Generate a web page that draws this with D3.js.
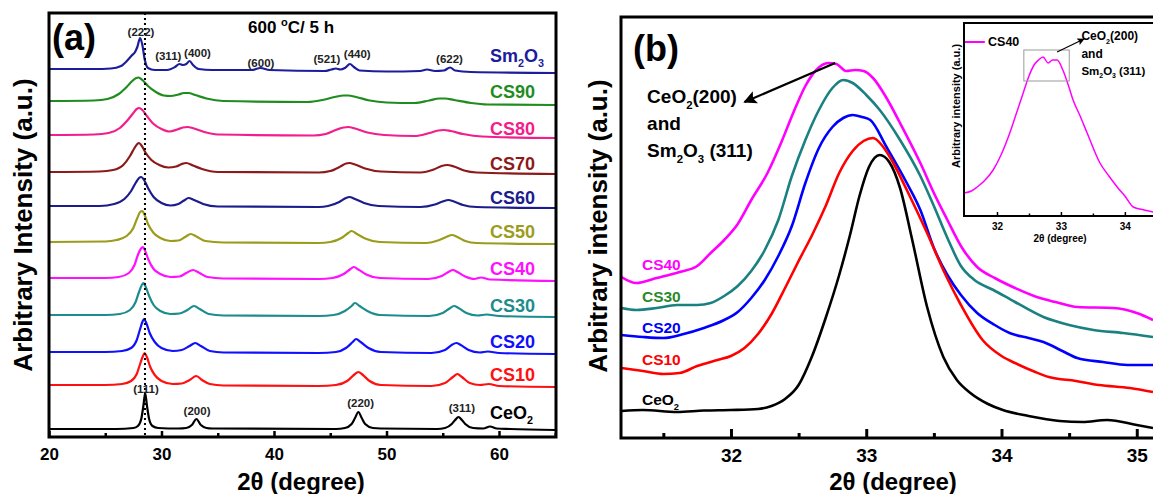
<!DOCTYPE html>
<html><head><meta charset="utf-8">
<script src="https://cdn.jsdelivr.net/npm/d3@7"></script>
<style>
body{margin:0;background:#fff}
text{font-family:"Liberation Sans",Arial,Helvetica,sans-serif;font-weight:bold}
</style></head>
<body><svg id="c" width="1153" height="494"></svg>
<script>
// ---------------- Panel (a) data: [2theta, intensity (a.u., stacked)] ----------------
const namesA = ["Sm2O3","CS90","CS80","CS70","CS60","CS50","CS40","CS30","CS20","CS10","CeO2"];
const xTicksA = [20,30,40,50,60];
const xMinorA = [25,35,45,55,65];
const aSm2O3 = [[20,368],[24,368],[25.5,368.5],[26.4,371],[27.0,377],[27.4,382],[27.65,385],[27.85,390],[28.1,399],[28.3,392],[28.5,378],[28.8,369],[29.4,367],[30.5,367],[31.2,370],[31.6,373],[31.9,372],[32.2,373],[32.5,376],[32.8,372],[33.3,368],[34.5,367],[38.0,367],[38.8,369],[39.6,367],[44.5,366],[45.1,367.5],[45.5,368.5],[45.9,367.5],[46.3,369],[46.75,373],[47.1,370],[47.6,366.5],[50,365.5],[53.0,366],[53.6,367.5],[54.3,366],[55.1,366.5],[55.65,369.5],[56.1,366.5],[57.5,365],[65,364]];
const aCS90 = [[20,336],[24,336.5],[25.2,338],[26.2,343],[26.9,350],[27.4,356],[27.75,359],[27.95,359.5],[28.3,357],[28.8,351],[29.5,345],[30.2,341.5],[30.8,341],[31.5,342.5],[32.0,344],[32.4,344],[33.0,342],[34.0,338.5],[35.5,336],[43,335],[44.3,337],[45.4,340],[46.2,341.5],[46.6,341.5],[47.3,340],[48.5,336.5],[50,334.5],[52.5,334],[53.8,336.5],[54.7,338.5],[55.2,338.5],[56,337],[57.5,334],[59,332.5],[65,332]];
const aCS80 = [[20,302],[24,302.5],[25.3,304],[26.3,309],[27.0,317],[27.5,324],[27.8,328],[28.0,329],[28.3,327],[28.7,321],[29.3,313],[30.0,308],[30.7,305.5],[31.4,307.5],[31.9,309.5],[32.3,310],[32.9,308.5],[33.8,305],[35,302.5],[43.5,301.5],[44.6,303],[45.6,307.5],[46.2,309.5],[46.6,310],[47.2,308.5],[48.3,304.5],[49.8,302],[52.5,301],[53.8,304],[54.6,306.5],[55.1,307],[55.7,306],[56.8,303],[58.5,300.5],[65,299]];
const aCS70 = [[20,265],[24.5,265.5],[25.7,267],[26.6,272],[27.2,281],[27.6,289],[27.85,293],[28.0,294],[28.25,291],[28.6,284],[29.1,277],[29.8,272],[30.6,269.5],[31.3,270.5],[31.8,273],[32.2,274],[32.8,271.5],[33.6,268],[35,265],[44,264.5],[45,266],[45.9,270.5],[46.4,273.5],[46.7,274],[47.2,272.5],[48.1,268.5],[49.5,265.5],[53,264.5],[54.2,267.5],[54.9,271],[55.4,272],[56.0,270.5],[56.9,266.5],[58,264.5],[65,263]];
const aCS60 = [[20,231],[24.5,231],[25.8,233],[26.7,238],[27.3,246],[27.7,254],[28.0,259],[28.2,260],[28.45,257],[28.8,249],[29.3,240],[30.0,234],[30.8,231.5],[31.5,233],[32.0,236.5],[32.4,239],[32.9,237],[33.7,233],[35,230.5],[44,230],[44.8,231],[45.8,235],[46.4,239],[46.7,240],[47.2,238],[48.0,234],[49.3,231],[53,230],[54.3,232.5],[55.0,235.5],[55.5,237],[56.0,235.5],[56.8,232],[58,230],[65,229]];
const aCS50 = [[20,195],[25,195.5],[26.0,197],[26.9,201],[27.5,209],[27.85,219],[28.1,225],[28.3,226],[28.5,222],[28.8,213],[29.3,204],[29.9,199],[30.8,196],[31.5,196.5],[32.1,200],[32.6,203],[33.1,200.5],[33.9,196],[35.5,194.5],[44,194],[45,195],[46.0,199],[46.6,204],[46.9,206],[47.3,203.5],[48.1,198.5],[49.4,195],[53.5,194],[54.7,197],[55.4,200.5],[55.8,202],[56.3,200],[57.0,196],[58,194],[65,193]];
const aCS40 = [[20,159],[25,159],[26.2,160],[27.1,164],[27.6,172],[27.9,182],[28.15,188],[28.35,190],[28.55,186],[28.85,177],[29.3,168],[29.9,163],[30.8,160],[31.6,160.5],[32.2,164],[32.8,167],[33.3,164.5],[34.1,160],[35.5,158.5],[44,158],[45.2,159],[46.2,163],[46.8,168],[47.1,170],[47.5,167.5],[48.2,162.5],[49.4,159],[53.7,158],[54.9,161],[55.5,165],[55.9,167],[56.3,165],[57.0,160.5],[57.8,158],[58.4,159.5],[59.2,157.5],[65,156]];
const aCS30 = [[20,122],[25,122],[26.3,123],[27.2,127],[27.7,135],[28.0,145],[28.25,152],[28.4,154],[28.6,150],[28.9,141],[29.3,132],[29.9,126],[30.8,123],[31.6,123.5],[32.3,127],[32.9,131],[33.4,128],[34.2,123],[35.5,121.5],[44,121],[45.3,122],[46.3,126],[46.9,131],[47.2,134],[47.6,131],[48.3,126],[49.4,122],[53.8,121],[55.0,124],[55.6,128.5],[56.0,131],[56.4,129],[57.1,124],[58.1,121.5],[58.9,122.5],[60,121],[65,120]];
const aCS20 = [[20,85],[25,85],[26.5,86],[27.3,89],[27.8,97],[28.1,108],[28.3,115],[28.45,118],[28.65,114],[28.95,104],[29.4,95],[30.0,89],[31.0,86],[31.8,87],[32.5,91],[33.0,94],[33.5,91],[34.3,86],[35.5,84.5],[44,84],[45.5,85],[46.4,89],[47.0,95],[47.3,98],[47.7,95],[48.4,89],[49.5,85],[54,84],[55.2,87],[55.8,92],[56.2,94],[56.6,92],[57.3,87],[58.3,84.5],[59.0,85.5],[60,84],[65,83]];
const aCS10 = [[20,52],[25,52],[26.5,53],[27.3,56],[27.8,63],[28.1,73],[28.35,81],[28.5,84],[28.7,80],[29.0,70],[29.4,62],[30.0,56],[31.0,53],[31.8,53.5],[32.5,57],[33.1,61],[33.6,57],[34.3,53],[35.5,51.5],[44,51],[45.5,52],[46.5,56],[47.1,62],[47.5,65],[47.9,62],[48.5,56],[49.5,52],[54,51],[55.2,54],[55.9,60],[56.3,63],[56.7,60],[57.4,54],[58.3,52],[59.1,53],[60,51],[65,50]];
const aCeO2 = [[20,8],[26,8],[27.5,9],[27.9,11],[28.2,18],[28.4,32],[28.55,44],[28.7,32],[28.9,18],[29.2,11],[29.7,9],[31.5,8.5],[32.2,9],[32.7,12],[33.1,18],[33.5,12],[34.0,9],[34.5,8.5],[45.5,8],[46.3,9],[46.9,13],[47.2,19],[47.5,25],[47.8,19],[48.1,13],[48.8,9],[49.5,8.5],[54.5,8],[55.2,9],[55.8,13],[56.1,17],[56.4,20],[56.7,17],[57.0,13],[57.7,9],[58.6,8.5],[59.2,10.5],[59.8,8.5],[61,8],[65,7]];
const seriesA = [aSm2O3,aCS90,aCS80,aCS70,aCS60,aCS50,aCS40,aCS30,aCS20,aCS10,aCeO2];
const labelYA = [375,339,302,267,233,199,162,125,89,56,18];
const peakLabelsA = [["(222)",28.18,401],["(311)",30.6,377],["(400)",33.2,380],["(600)",38.84,370],["(521)",44.7,374],["(440)",47.4,379],["(622)",55.6,374],["(111)",28.62,44],["(200)",33.16,22],["(220)",47.7,30],["(311)",56.7,25]];
const dottedXA = 28.53;

// ---------------- Panel (b) data ----------------
const namesB = ["CS40","CS30","CS20","CS10","CeO2"];
const xTicksB = [32,33,34,35];
const xMinorB = [31.5,32.5,33.5,34.5];
const bCS40 = [[31.19,161],[31.3,155],[31.45,160],[31.62,166],[31.75,172],[31.85,185],[31.95,198],[32.05,214],[32.15,238],[32.27,265],[32.37,295],[32.46,325],[32.55,352],[32.63,368],[32.72,375],[32.78,374],[32.85,367],[32.92,368],[32.98,367],[33.05,360],[33.15,340],[33.25,315],[33.4,275],[33.5,245],[33.6,218],[33.7,192],[33.82,171],[33.95,160],[34.1,150],[34.26,141],[34.4,136],[34.56,131],[34.83,130],[35.0,125],[35.12,118]];
const bCS30 = [[31.19,130],[31.3,128],[31.45,130],[31.6,133],[31.75,133],[31.85,135],[31.95,142],[32.05,152],[32.15,167],[32.25,188],[32.35,218],[32.45,262],[32.55,298],[32.65,328],[32.75,350],[32.83,358],[32.9,355],[33.0,343],[33.1,328],[33.25,298],[33.4,262],[33.5,232],[33.6,200],[33.7,172],[33.8,158],[33.94,148],[34.1,136],[34.31,121],[34.5,113],[34.68,108],[34.9,105],[35.12,101]];
const bCS20 = [[31.19,103],[31.35,101],[31.5,100],[31.65,104],[31.8,110],[31.95,118],[32.05,126],[32.15,140],[32.25,158],[32.35,182],[32.45,212],[32.55,255],[32.65,290],[32.75,311],[32.83,320],[32.9,323],[32.97,321],[33.03,318],[33.15,291],[33.3,255],[33.4,228],[33.5,190],[33.6,163],[33.7,143],[33.82,125],[33.95,113],[34.06,105],[34.2,100],[34.31,96],[34.45,87],[34.56,80],[34.75,76],[34.93,73],[35.12,73]];
const bCS10 = [[31.19,70],[31.35,67],[31.5,64],[31.62,65],[31.75,72],[31.9,78],[32.0,82],[32.1,90],[32.2,104],[32.3,124],[32.4,150],[32.5,177],[32.6,203],[32.7,232],[32.8,265],[32.9,287],[32.98,297],[33.05,300],[33.12,292],[33.2,275],[33.3,248],[33.45,205],[33.58,165],[33.7,133],[33.86,98],[34.0,82],[34.1,75],[34.25,66],[34.35,61],[34.55,57],[34.72,53],[34.95,50],[35.12,46]];
const bCeO2 = [[31.19,27],[31.35,28],[31.6,26],[31.8,27.5],[32.0,28],[32.2,29],[32.3,32],[32.4,39],[32.5,53],[32.6,82],[32.7,120],[32.8,163],[32.88,203],[32.95,242],[33.02,271],[33.1,283],[33.17,276],[33.25,250],[33.34,198],[33.45,131],[33.57,81],[33.67,58],[33.77,45],[33.9,34],[34.01,28],[34.2,22],[34.43,17],[34.6,16],[34.78,18],[35.0,13],[35.12,10]];
const seriesB = [bCS40,bCS30,bCS20,bCS10,bCeO2];
const labelYB = [168,136,105,73,33];
const labelXB = 31.342;

// ---------------- Inset data ----------------
const xTicksI = [32,33,34];
const xMinorI = [32.5,33.5];
const iCS40 = [[31.48,23],[31.6,25],[31.69,29],[31.8,35],[31.94,46],[32.07,62],[32.2,83],[32.3,102],[32.41,123],[32.5,140],[32.58,151],[32.65,156],[32.72,159],[32.8,153],[32.87,156],[32.94,156],[33.03,146],[33.12,130],[33.19,116],[33.3,100],[33.41,83],[33.61,53],[33.75,40],[33.88,29],[34.0,20],[34.13,9],[34.3,6],[34.44,4]];

// ---------------- styles ----------------
const colorsA = ["#1c1c9c","#1f8c1f","#f21e8c","#8c1a1a","#1c1c8c","#9c9c1c","#ff10ff","#1c8c8c","#1010ff","#ff1010","#000000"];
const colorsB = ["#ff00ff","#1a8080","#0000ff","#ff0000","#000000"];
const labelColorsB = ["#ff00ff","#2a8a2a","#0000ff","#ff0000","#000000"];

const svg = d3.select("#c");
const defs = svg.append("defs");
defs.append("marker").attr("id","arr").attr("viewBox","0 0 10 10").attr("refX",9).attr("refY",5)
  .attr("markerWidth",6).attr("markerHeight",6).attr("orient","auto-start-reverse").attr("markerUnits","strokeWidth")
  .append("path").attr("d","M0,0L10,5L0,10L2,5Z").attr("fill","#000");

function rich(g, x, y, parts, size, color, anchor){
  const t = g.append("text").attr("x",x).attr("y",y).attr("font-size",size).attr("fill",color||"#000")
    .attr("text-anchor",anchor||"start");
  let sub=false;
  parts.forEach(p=>{
    const isSub = p.startsWith("_");
    const s = isSub ? p.slice(1) : p;
    const ts = t.append("tspan").text(s);
    if(isSub){ ts.attr("font-size",size*0.6).attr("dy", size*0.3); sub=true; }
    else if(sub){ ts.attr("dy", -size*0.3); sub=false; }
  });
  return t;
}
function nameParts(n){
  if(n==="Sm2O3") return ["Sm","_2","O","_3"];
  if(n==="CeO2") return ["CeO","_2"];
  return [n];
}

// ================= Panel (a) =================
const xA = d3.scaleLinear().domain([20,65]).range([49,555.25]);
const yA = d3.scaleLinear().domain([0,424]).range([437,13]);
const gA = svg.append("g");
defs.append("clipPath").attr("id","clipA").append("rect").attr("x",49).attr("y",13).attr("width",507).attr("height",424);
const lineA = d3.line().x(d=>xA(d[0])).y(d=>yA(d[1])).curve(d3.curveMonotoneX);
const cA = gA.append("g").attr("clip-path","url(#clipA)");
seriesA.forEach((s,i)=>{
  cA.append("path").attr("d",lineA(s)).attr("fill","none").attr("stroke",colorsA[i]).attr("stroke-width",2.2).attr("stroke-linejoin","round");
});
cA.append("line").attr("x1",xA(dottedXA)).attr("x2",xA(dottedXA)).attr("y1",yA(424)).attr("y2",yA(0))
  .attr("stroke","#000").attr("stroke-width",2).attr("stroke-dasharray","2,3");
const axA = gA.append("g").attr("transform","translate(0,437)")
  .call(d3.axisBottom(xA).tickValues(xTicksA).tickSize(-6).tickSizeOuter(0).tickPadding(11).tickFormat(d3.format("d")));
axA.select(".domain").remove();
axA.selectAll(".tick line").attr("stroke","#000").attr("stroke-width",2.5);
axA.selectAll(".tick text").attr("font-size",17).attr("fill","#000").attr("font-family",null);
const axAm = gA.append("g").attr("transform","translate(0,437)")
  .call(d3.axisBottom(xA).tickValues(xMinorA).tickSize(-4).tickSizeOuter(0).tickFormat(""));
axAm.select(".domain").remove();
axAm.selectAll(".tick line").attr("stroke","#000").attr("stroke-width",2.5);
gA.append("rect").attr("x",49).attr("y",13).attr("width",507).attr("height",424).attr("fill","none").attr("stroke","#000").attr("stroke-width",3);
seriesA.forEach((s,i)=>{
  rich(gA, xA(59.2), yA(labelYA[i]), nameParts(namesA[i]), 18, i===10?"#000":colorsA[i], "start");
});
peakLabelsA.forEach(p=>{
  gA.append("text").attr("x",xA(p[1])).attr("y",yA(p[2])).attr("text-anchor","middle").attr("font-size",11.5).attr("fill","#222").text(p[0]);
});
gA.append("text").attr("x",52).attr("y",50).attr("font-size",36).text("(a)");
{
  const t = gA.append("text").attr("x",248).attr("y",33).attr("font-size",17);
  t.append("tspan").text("600 ");
  t.append("tspan").attr("font-size",11).attr("dy",-7).text("o");
  t.append("tspan").attr("dy",7).text("C/ 5 h");
}
gA.append("text").attr("x",301).attr("y",490).attr("text-anchor","middle").attr("font-size",24).text("2θ (degree)");
gA.append("text").attr("transform","translate(32,225) rotate(-90)").attr("text-anchor","middle").attr("font-size",26).text("Arbitrary Intensity (a.u.)");

// ================= Panel (b) =================
const xB = d3.scaleLinear().domain([31.187,35.12]).range([621,1153]);
const yB = d3.scaleLinear().domain([0,421]).range([438,17]);
const gB = svg.append("g");
defs.append("clipPath").attr("id","clipB").append("rect").attr("x",621).attr("y",17).attr("width",540).attr("height",421);
const lineB = d3.line().x(d=>xB(d[0])).y(d=>yB(d[1])).curve(d3.curveMonotoneX);
const cB = gB.append("g").attr("clip-path","url(#clipB)");
seriesB.forEach((s,i)=>{
  cB.append("path").attr("d",lineB(s)).attr("fill","none").attr("stroke",colorsB[i]).attr("stroke-width",2.6).attr("stroke-linejoin","round");
});
const axB = gB.append("g").attr("transform","translate(0,438)")
  .call(d3.axisBottom(xB).tickValues(xTicksB).tickSize(-9).tickSizeOuter(0).tickPadding(11).tickFormat(d3.format("d")));
axB.select(".domain").remove();
axB.selectAll(".tick line").attr("stroke","#000").attr("stroke-width",3);
axB.selectAll(".tick text").attr("font-size",19).attr("fill","#000").attr("font-family",null);
const axBm = gB.append("g").attr("transform","translate(0,438)")
  .call(d3.axisBottom(xB).tickValues(xMinorB).tickSize(-5).tickSizeOuter(0).tickFormat(""));
axBm.select(".domain").remove();
axBm.selectAll(".tick line").attr("stroke","#000").attr("stroke-width",3);
gB.append("rect").attr("x",621).attr("y",17).attr("width",560).attr("height",421).attr("fill","none").attr("stroke","#000").attr("stroke-width",3);
seriesB.forEach((s,i)=>{
  rich(gB, xB(labelXB), yB(labelYB[i]), nameParts(namesB[i]), 15.5, labelColorsB[i], "start");
});
gB.append("text").attr("x",633).attr("y",61).attr("font-size",36).text("(b)");
rich(gB, xB(31.38), yB(335), ["CeO","_2","(200)"], 19, "#000");
gB.append("text").attr("x",xB(31.38)).attr("y",yB(308)).attr("font-size",19).text("and");
rich(gB, xB(31.38), yB(281), ["Sm","_2","O","_3"," (311)"], 19, "#000");
gB.append("line").attr("x1",xB(32.77)).attr("y1",yB(375)).attr("x2",xB(32.10)).attr("y2",yB(336))
  .attr("stroke","#000").attr("stroke-width",2.2).attr("marker-end","url(#arr)");
gB.append("text").attr("x",893).attr("y",490).attr("text-anchor","middle").attr("font-size",24).text("2θ (degree)");
gB.append("text").attr("transform","translate(607,226) rotate(-90)").attr("text-anchor","middle").attr("font-size",26).text("Arbitrary intensity (a.u.)");

// ================= Inset =================
const xI = d3.scaleLinear().domain([31.484,34.44]).range([964,1153]);
const yI = d3.scaleLinear().domain([0,193]).range([216,23]);
const gI = svg.append("g");
gI.append("rect").attr("x",964).attr("y",23).attr("width",200).attr("height",193).attr("fill","#fff");
defs.append("clipPath").attr("id","clipI").append("rect").attr("x",964).attr("y",23).attr("width",200).attr("height",193);
const lineI = d3.line().x(d=>xI(d[0])).y(d=>yI(d[1])).curve(d3.curveMonotoneX);
gI.append("g").attr("clip-path","url(#clipI)").append("path").attr("d",lineI(iCS40)).attr("fill","none").attr("stroke","#ff00ff").attr("stroke-width",1.5);
const axI = gI.append("g").attr("transform","translate(0,216)")
  .call(d3.axisBottom(xI).tickValues(xTicksI).tickSize(-4).tickSizeOuter(0).tickPadding(7).tickFormat(d3.format("d")));
axI.select(".domain").remove();
axI.selectAll(".tick line").attr("stroke","#000").attr("stroke-width",1.5);
axI.selectAll(".tick text").attr("font-size",10).attr("fill","#000").attr("font-family",null);
const axIm = gI.append("g").attr("transform","translate(0,216)")
  .call(d3.axisBottom(xI).tickValues(xMinorI).tickSize(-2.5).tickSizeOuter(0).tickFormat(""));
axIm.select(".domain").remove();
axIm.selectAll(".tick line").attr("stroke","#000").attr("stroke-width",1.5);
gI.append("rect").attr("x",964).attr("y",23).attr("width",210).attr("height",193).attr("fill","none").attr("stroke","#000").attr("stroke-width",2);
gI.append("line").attr("x1",xI(31.5)).attr("x2",xI(31.81)).attr("y1",yI(174)).attr("y2",yI(174)).attr("stroke","#ff00ff").attr("stroke-width",2);
gI.append("text").attr("x",xI(31.86)).attr("y",yI(170)).attr("font-size",12.5).text("CS40");
gI.append("rect").attr("x",xI(32.42)).attr("y",yI(166)).attr("width",xI(33.13)-xI(32.42)).attr("height",yI(135)-yI(166))
  .attr("fill","none").attr("stroke","#999").attr("stroke-width",1);
gI.append("line").attr("x1",xI(32.94)).attr("y1",yI(164)).attr("x2",xI(33.36)).attr("y2",yI(177))
  .attr("stroke","#000").attr("stroke-width",1.2).attr("marker-end","url(#arr)");
rich(gI, xI(33.32), yI(176), ["CeO","_2","(200)"], 12, "#000");
gI.append("text").attr("x",xI(33.32)).attr("y",yI(158)).attr("font-size",12).text("and");
rich(gI, xI(33.32), yI(141), ["Sm","_2","O","_3"," (311)"], 11.5, "#000");
gI.append("text").attr("x",1060).attr("y",242).attr("text-anchor","middle").attr("font-size",10).text("2θ (degree)");
gI.append("text").attr("transform","translate(960,106) rotate(-90)").attr("text-anchor","middle").attr("font-size",11).text("Arbitrary intensity (a.u.)");
</script></body></html>
